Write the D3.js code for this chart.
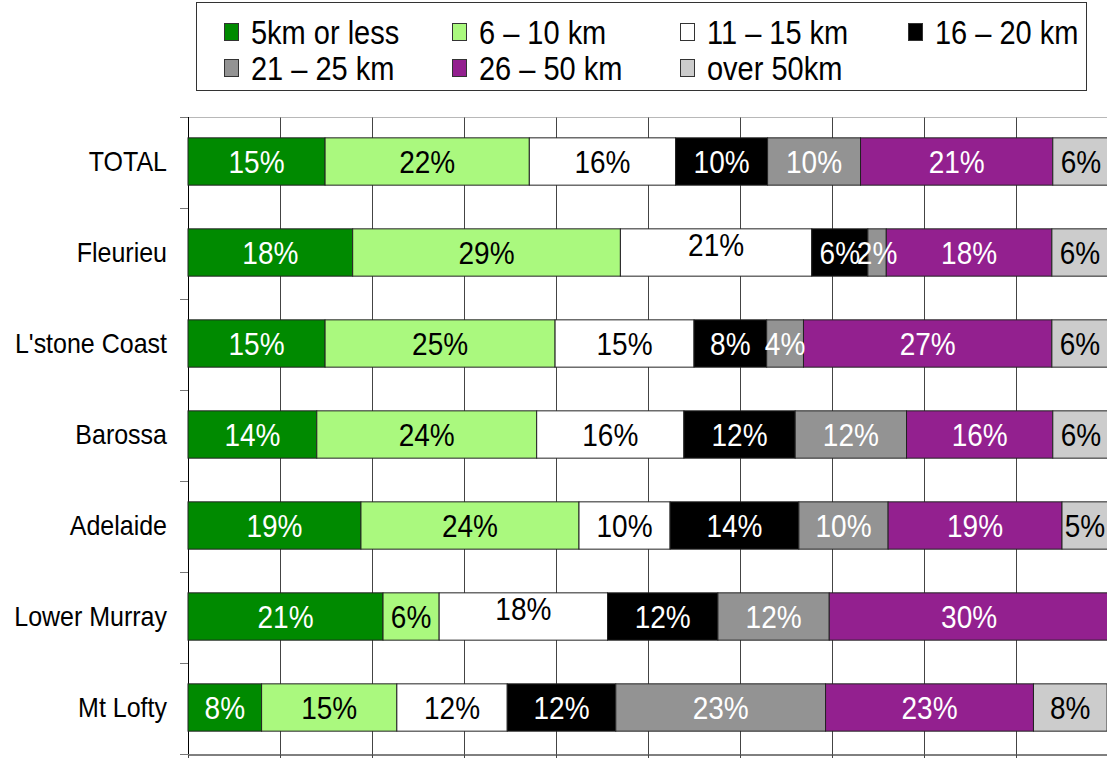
<!DOCTYPE html>
<html>
<head>
<meta charset="utf-8">
<script src="https://cdn.jsdelivr.net/npm/d3@7"></script>
<style>
  body { margin: 0; background: #fff; }
  text { font-family: "Liberation Sans", Arial, sans-serif; }
</style>
</head>
<body>
<div id="chart"></div>
<script>
const regions = ["TOTAL", "Fleurieu", "L'stone Coast", "Barossa", "Adelaide", "Lower Murray", "Mt Lofty"]
const bands = ["5km or less", "6 – 10 km", "11 – 15 km", "16 – 20 km", "21 – 25 km", "26 – 50 km", "over 50km"]

// share of trips in each distance band, % (one value per region)
const km0_5   = [14.9, 17.9, 14.9, 14.0, 18.8, 21.2,  8.0]
const km6_10  = [22.2, 29.1, 25.0, 23.9, 23.7,  6.1, 14.7]
const km11_15 = [15.9, 20.8, 15.1, 16.0,  9.9, 18.3, 12.0]
const km16_20 = [10.0,  6.1,  7.9, 12.1, 14.0, 12.0, 11.8]
const km21_25 = [10.1,  2.0,  4.0, 12.1,  9.7, 12.1, 22.8]
const km26_50 = [20.9, 18.0, 27.0, 15.9, 18.9, 30.4, 22.6]
const km50up  = [ 6.1,  6.1,  6.1,  6.1,  5.0,  0.0,  8.0]

const xTicks = [0, 10, 20, 30, 40, 50, 60, 70, 80, 90, 100]

const colors = ["#008a00", "#aaf97e", "#ffffff", "#000000", "#939393", "#93208f", "#cccccc"]
const labelInk = ["#fff", "#000", "#000", "#fff", "#fff", "#fff", "#000"]

const width = 1107, height = 758
const marginLeft = 188, marginTop = 117, marginBottom = 4
const stretch = 1.14 // the source text is a little taller than Arial

const series = [km0_5, km6_10, km11_15, km16_20, km21_25, km26_50, km50up]
const table = regions.map((r, i) => {
    const row = { region: r }
    bands.forEach((b, j) => row[b] = series[j][i])
    return row
})

const stacked = d3.stack().keys(bands)(table)

const x = d3.scaleLinear([0, 100], [marginLeft, marginLeft + 920])
const y = d3.scaleBand(regions, [marginTop, height - marginBottom])
    .paddingInner(0.48)
    .paddingOuter(0.24)

const svg = d3.select("#chart").append("svg")
    .attr("width", width)
    .attr("height", height)
    .attr("viewBox", [0, 0, width, height])

// top edge of plot area
svg.append("line")
    .attr("x1", marginLeft).attr("x2", width)
    .attr("y1", marginTop + 0.5).attr("y2", marginTop + 0.5)
    .attr("stroke", "#b8b8b8")

// vertical grid + bottom axis
svg.append("g")
    .attr("transform", `translate(0,${height - marginBottom + 0.5})`)
    .call(d3.axisBottom(x).tickValues(xTicks).tickSize(6).tickFormat(""))
    .call(g => g.select(".domain").attr("stroke", "#000"))
    .call(g => g.selectAll(".tick line").attr("stroke", "#444"))
    .call(g => g.selectAll(".tick").filter(d => d > 0).append("line")
        .attr("y1", 0)
        .attr("y2", -(height - marginBottom - marginTop))
        .attr("stroke", "#444"))

// left axis with ticks between categories
const step = y.step()
const bounds = d3.range(regions.length + 1).map(i => marginTop + i * step)
const left = svg.append("g")
left.append("line")
    .attr("x1", marginLeft + 0.5).attr("x2", marginLeft + 0.5)
    .attr("y1", marginTop).attr("y2", height - marginBottom)
    .attr("stroke", "#000")
left.selectAll(".tk")
    .data(bounds)
    .join("line")
    .attr("class", "tk")
    .attr("x1", marginLeft - 8).attr("x2", marginLeft)
    .attr("y1", d => Math.round(d) + 0.5).attr("y2", d => Math.round(d) + 0.5)
    .attr("stroke", "#777")

left.selectAll(".cat")
    .data(regions)
    .join("text")
    .attr("class", "cat")
    .attr("text-anchor", "end")
    .attr("dy", "0.35em")
    .attr("font-size", 25)
    .attr("transform", d => `translate(167,${y(d) + y.bandwidth() / 2 - 1}) scale(1,${stretch})`)
    .text(d => d)

// bars
const layer = svg.append("g")
    .selectAll("g")
    .data(stacked)
    .join("g")
    .attr("fill", (d, i) => colors[i])

layer.selectAll("rect")
    .data(d => d)
    .join("rect")
    .attr("x", d => x(d[0]))
    .attr("y", d => y(d.data.region) - 1)
    .attr("width", d => x(d[1]) - x(d[0]))
    .attr("height", y.bandwidth())
    .attr("stroke", "#222")
    .attr("stroke-width", 1)

// Excel nudged these two labels up to dodge their neighbours
const nudged = { "Fleurieu": "11 – 15 km", "Lower Murray": "11 – 15 km" }

svg.append("g")
    .selectAll("g")
    .data(stacked)
    .join("g")
    .attr("fill", (d, i) => labelInk[i])
    .selectAll("text")
    .data(d => d.filter(p => p[1] - p[0] > 0).map(p => ({ p, key: d.key })))
    .join("text")
    .attr("text-anchor", "middle")
    .attr("dy", "0.35em")
    .attr("font-size", 28)
    .attr("transform", ({ p, key }) => {
        const cx = (x(p[0]) + x(p[1])) / 2
        let cy = y(p.data.region) + y.bandwidth() / 2 - 1
        if (nudged[p.data.region] === key) cy -= 8
        return `translate(${cx},${cy}) scale(1,${stretch})`
    })
    .text(({ p }) => Math.round(p[1] - p[0]) + "%")

// legend
const legend = svg.append("g")
legend.append("rect")
    .attr("x", 196.5).attr("y", 2.5)
    .attr("width", 890).attr("height", 88)
    .attr("fill", "#fff")
    .attr("stroke", "#333")

const item = legend.selectAll(".item")
    .data(bands)
    .join("g")
    .attr("class", "item")
    .attr("transform", (d, i) => `translate(${224 + (i % 4) * 228},${i < 4 ? 32 : 68})`)

item.append("rect")
    .attr("x", 0.5).attr("y", -8.5)
    .attr("width", 14).attr("height", 17)
    .attr("fill", (d, i) => colors[i])
    .attr("stroke", "#333")

item.append("text")
    .attr("dy", "0.35em")
    .attr("font-size", 29)
    .attr("transform", `translate(27,0) scale(1,${stretch})`)
    .text(d => d)
</script>
</body>
</html>
